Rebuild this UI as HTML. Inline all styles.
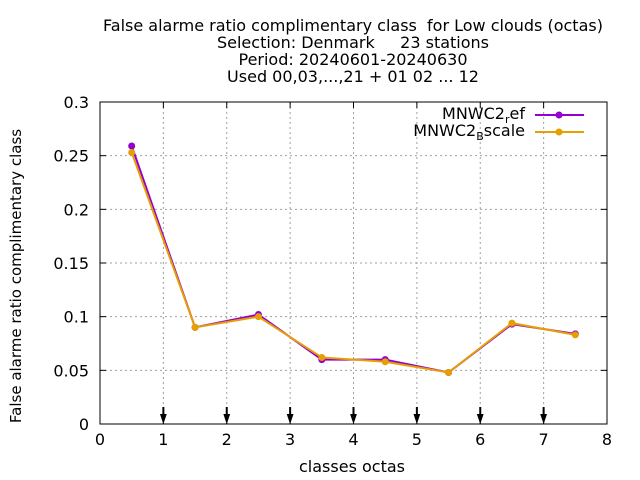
<!DOCTYPE html>
<html><head><meta charset="utf-8"><style>
body{margin:0;background:#fff}
svg{display:block;font-family:"DejaVu Sans","Liberation Sans",sans-serif}
text{white-space:pre}
</style></head><body>
<svg id="c" width="640" height="480">
<g font-size="16" text-anchor="middle" fill="#000">
<text x="353" y="31">False alarme ratio complimentary class  for Low clouds (octas)</text>
<text x="353" y="48">Selection: Denmark     23 stations</text>
<text x="353" y="65">Period: 20240601-20240630</text>
<text x="353" y="82">Used 00,03,...,21 + 01 02 ... 12</text>
</g>
<g id="grid"></g>
<g id="axes"></g>
<g id="series"></g>
<text x="352" y="472" font-size="16" text-anchor="middle">classes octas</text>
<text transform="translate(21,276) rotate(-90)" font-size="15" text-anchor="middle">False alarme ratio complimentary class</text>
<g font-size="16">
<g>
<text x="525" y="119" text-anchor="end">MNWC2<tspan font-size="11" dy="4">r</tspan><tspan dy="-4">ef</tspan></text>
<line x1="535" y1="115" x2="584" y2="115" stroke="#9400d3" stroke-width="2"/>
<circle cx="559" cy="115" r="3.5" fill="#9400d3"/>
</g>
<g>
<text x="525" y="136" text-anchor="end">MNWC2<tspan font-size="11" dy="4">B</tspan><tspan dy="-4">scale</tspan></text>
<line x1="535" y1="132" x2="584" y2="132" stroke="#e69f00" stroke-width="2"/>
<circle cx="559" cy="132" r="3.5" fill="#e69f00"/>
</g>
</g>
</svg>
<script>
const categories=[0.5,1.5,2.5,3.5,4.5,5.5,6.5,7.5];
const refValues=[0.259,0.090,0.102,0.060,0.060,0.048,0.093,0.084];
const bscaleValues=[0.253,0.090,0.100,0.062,0.058,0.048,0.094,0.083];
const xTicks=[0,1,2,3,4,5,6,7,8];
const yTicks=[0,0.05,0.1,0.15,0.2,0.25,0.3];
const yLabels=["0","0.05","0.1","0.15","0.2","0.25","0.3"];
const arrowXs=[1,2,3,4,5,6,7];
const L=100,R=607,T=102,B=424;
const X=v=>L+(R-L)*v/8, Y=v=>B-(B-T)*v/0.3;
const NS="http://www.w3.org/2000/svg";
function mk(p,t,a){const e=document.createElementNS(NS,t);for(const k in a)e.setAttribute(k,a[k]);p.appendChild(e);return e;}
const grid=document.getElementById('grid'),axes=document.getElementById('axes'),ser=document.getElementById('series');
xTicks.forEach(v=>{
 if(v>0&&v<8){const g=mk(grid,'line',{x1:X(v),x2:X(v),y1:T,y2:B,stroke:'#a0a0a0','stroke-dasharray':'2,3'});
 
 }
 mk(axes,'line',{x1:X(v),x2:X(v),y1:B,y2:B-6,stroke:'#000'});
 mk(axes,'line',{x1:X(v),x2:X(v),y1:T,y2:T+6,stroke:'#000'});
 const t=mk(axes,'text',{x:X(v),y:B+21,'font-size':16,'text-anchor':'middle'});t.textContent=v;
 
 
});
yTicks.forEach((v,i)=>{
 if(v>0&&v<0.3){const g=mk(grid,'line',{x1:L,x2:R,y1:Y(v),y2:Y(v),stroke:'#a0a0a0','stroke-dasharray':'2,3'});
 
 }
 mk(axes,'line',{x1:L,x2:L+6,y1:Y(v),y2:Y(v),stroke:'#000'});
 mk(axes,'line',{x1:R,x2:R-6,y1:Y(v),y2:Y(v),stroke:'#000'});
 const t=mk(axes,'text',{x:L-11,y:Y(v)+6,'font-size':16,'text-anchor':'end'});t.textContent=yLabels[i];
 
 
});
mk(axes,'rect',{x:L,y:T,width:R-L,height:B-T,fill:'none',stroke:'#000'});
arrowXs.forEach(v=>{
 const a=mk(axes,'path',{d:`M${X(v)},${B-17}V${B-4}M${X(v)-2},${B-9}L${X(v)},${B-3}L${X(v)+2},${B-9}Z`,stroke:'#000','stroke-width':2,fill:'#000'});
 
 
});
function series(vals,col,name){
 const g=mk(ser,'g',{});
 
 
 mk(g,'polyline',{points:vals.map((v,i)=>X(categories[i])+','+Y(v)).join(' '),fill:'none',stroke:col,'stroke-width':2});
 vals.forEach((v,i)=>{const p=mk(g,'circle',{cx:X(categories[i]),cy:Y(v),r:3.5,fill:col});
 
 });
}
series(refValues,'#9400d3','series-mnwc2-ref');
series(bscaleValues,'#e69f00','series-mnwc2-bscale');
</script>
</body></html>
